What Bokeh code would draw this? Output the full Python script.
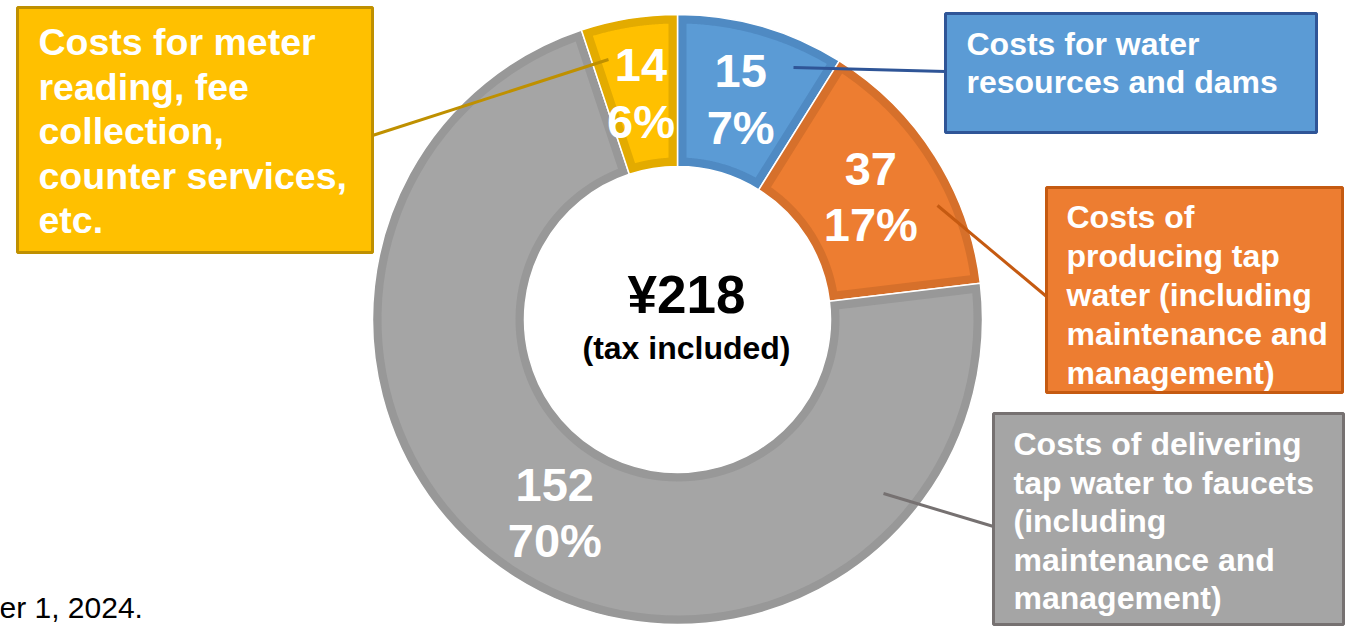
import math
import numpy as np
from bokeh.plotting import figure
from bokeh.models import Range1d
from bokeh.core.properties import value
from bokeh.embed import file_html
from bokeh.resources import INLINE

# ---------------- data ----------------
categories = [
    "Costs for water resources and dams",
    "Costs of producing tap water (including maintenance and management)",
    "Costs of delivering tap water to faucets (including maintenance and management)",
    "Costs for meter reading, fee collection, counter services, etc.",
]
cost_yen = [15, 37, 152, 14]
cost_pct = [7, 17, 70, 6]
# share of the ring each slice occupies as drawn in the picture (clockwise from 12 o'clock)
ring_share_pct = [8.9, 14.2, 71.8, 5.1]
total_label = "¥218"
total_note = "(tax included)"
footnote = "er 1, 2024."
box_lines = [
    ["Costs for water", "resources and dams"],
    ["Costs of", "producing tap", "water (including", "maintenance and", "management)"],
    ["Costs of delivering", "tap water to faucets", "(including", "maintenance and", "management)"],
    ["Costs for meter", "reading, fee", "collection,", "counter services,", "etc."],
]
fill_colors = ["#5B9BD5", "#ED7D31", "#A5A5A5", "#FFC000"]
band_colors = ["#4F8AC3", "#D6702B", "#989898", "#E3AB00"]
edge_colors = ["#2F5597", "#C55A11", "#767171", "#BF9000"]

# ---------------- layout (pixel units) ----------------
W, H = 1347, 626
CX, CY = 677, -319
R_OUT, R_IN = 305, 153
BAND = 9
LABEL_R = 229
FONT = value("Liberation Sans")
BASE_FIX = 0.35  # baseline correction, fraction of font size

# label boxes: left, top, right, bottom
boxes = [(945, 13, 1316, 132), (1046, 187, 1342, 392), (993, 413, 1343, 624), (17, 7, 372, 252)]
# text: left x, first baseline, line step, font size
box_text = [(966, 55, 37.5, 32), (1066, 228, 39, 32), (1013, 455, 38.5, 32), (38, 55, 44.5, 37.5)]
# leader lines: start (inside slice), end (box edge)
leaders = [((793, 67), (945, 71)), ((937, 205), (1046, 296)), ((883, 493), (993, 526)), ((608, 59), (372, 135))]


def base_y(yref, fs):
    return -(yref - BASE_FIX * fs)


p = figure(width=W, height=H,
           x_range=Range1d(0, W), y_range=Range1d(-H, 0),
           output_backend="svg", toolbar_location=None,
           x_axis_location=None, y_axis_location=None, min_border=0)
p.grid.visible = False
p.outline_line_color = None
p.background_fill_color = "white"
p.border_fill_color = "white"

# ---------------- donut ----------------
shares = np.array(ring_share_pct) / sum(ring_share_pct)
a_end = np.cumsum(shares) * 2 * math.pi
a_start = np.concatenate([[0.0], a_end[:-1]])

p.annular_wedge(x=CX, y=CY, inner_radius=R_IN, outer_radius=R_OUT,
                start_angle=list(math.pi / 2 - a_start), end_angle=list(math.pi / 2 - a_end),
                direction="clock", fill_color=band_colors, line_color="white", line_width=1.5)


def inset_sector(a1, a2, r_in, r_out, d, n=90):
    ro, ri = r_out - d, r_in + d
    to = np.linspace(a1 + math.asin(d / ro), a2 - math.asin(d / ro), n)
    ti = np.linspace(a2 - math.asin(d / ri), a1 + math.asin(d / ri), n)
    xs = np.concatenate([CX + ro * np.sin(to), CX + ri * np.sin(ti)])
    ys = np.concatenate([CY + ro * np.cos(to), CY + ri * np.cos(ti)])
    return list(xs), list(ys)


xs, ys = [], []
for a1, a2 in zip(a_start, a_end):
    x, y = inset_sector(a1, a2, R_IN, R_OUT, BAND)
    xs.append(x)
    ys.append(y)
p.patches(xs=xs, ys=ys, fill_color=fill_colors, line_color=None)

# slice labels
LFS = 47
mid = (a_start + a_end) / 2
lx = CX + LABEL_R * np.sin(mid)
ly = CY + LABEL_R * np.cos(mid)          # data y of the label centre
p.text(x=list(lx), y=list(ly + 28 - 16.5 + BASE_FIX * LFS), text=[str(v) for v in cost_yen],
       text_align="center", text_baseline="alphabetic", text_font=FONT,
       text_font_style="bold", text_font_size=f"{LFS}px", text_color="white")
p.text(x=list(lx), y=list(ly - 28 - 16.5 + BASE_FIX * LFS), text=[f"{v}%" for v in cost_pct],
       text_align="center", text_baseline="alphabetic", text_font=FONT,
       text_font_style="bold", text_font_size=f"{LFS}px", text_color="white")

# leader lines
p.segment(x0=[l[0][0] for l in leaders], y0=[-l[0][1] for l in leaders],
          x1=[l[1][0] for l in leaders], y1=[-l[1][1] for l in leaders],
          line_color=edge_colors, line_width=3)

# boxes
p.quad(left=[b[0] for b in boxes], right=[b[2] for b in boxes],
       top=[-b[1] for b in boxes], bottom=[-b[3] for b in boxes],
       fill_color=fill_colors, line_color=edge_colors, line_width=3)

for lines, (tx, ty, step, fs) in zip(box_lines, box_text):
    p.text(x=[tx] * len(lines), y=[base_y(ty + i * step, fs) for i in range(len(lines))], text=lines,
           text_align="left", text_baseline="alphabetic", text_font=FONT,
           text_font_style="bold", text_font_size=f"{fs}px", text_color="white")

# centre text
p.text(x=[686], y=[base_y(313, 53)], text=[total_label], text_align="center", text_baseline="alphabetic",
       text_font=FONT, text_font_style="bold", text_font_size="53px", text_color="black")
p.text(x=[686], y=[base_y(359, 32)], text=[total_note], text_align="center", text_baseline="alphabetic",
       text_font=FONT, text_font_style="bold", text_font_size="32px", text_color="black")

# footnote (cut by the left edge in the source)
p.text(x=[-1], y=[base_y(617, 30)], text=[footnote], text_align="left", text_baseline="alphabetic",
       text_font=FONT, text_font_size="30px", text_color="black")

open("out.html", "w").write(file_html(p, INLINE))
